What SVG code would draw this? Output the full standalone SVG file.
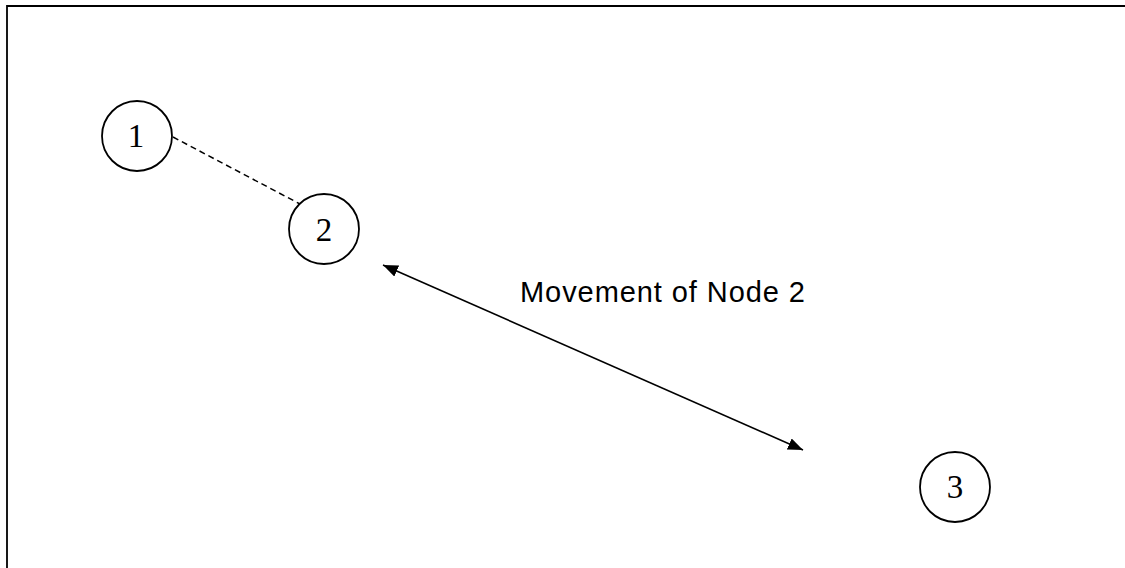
<svg xmlns="http://www.w3.org/2000/svg" width="1125" height="568" viewBox="0 0 1125 568">
  <style>
    .node circle { fill: #fff; stroke: #000; stroke-width: 1.8; }
    .node text { font-family: "Liberation Serif", "Times New Roman", serif; font-size: 33px; text-anchor: middle; fill: #000; }
    .link { stroke: #000; stroke-width: 1.6; fill: none; }
    .dashed { stroke-dasharray: 6 4; stroke-width: 1.5; }
    .label { font-family: "Liberation Sans", Arial, sans-serif; font-size: 29px; fill: #000; }
  </style>
  <defs>
    <marker id="head" viewBox="0 0 15 12" refX="15" refY="6" markerWidth="15" markerHeight="12" markerUnits="userSpaceOnUse" orient="auto-start-reverse">
      <path d="M0,0 L15,6 L0,12 Z" fill="#000"/>
    </marker>
  </defs>
  <rect width="1125" height="568" fill="#fff"/>
  <!-- frame: top and left edges, open to the right and bottom -->
  <path d="M1125,6 H7 V568" fill="none" stroke="#000" stroke-width="1.8"/>

  <g id="connectors">
    <line class="link dashed" x1="173" y1="137" x2="300" y2="204"/>
    <line class="link" x1="383" y1="265" x2="803" y2="450" marker-start="url(#head)" marker-end="url(#head)"/>
  </g>

  <g id="node1" class="node">
    <circle cx="137" cy="136" r="35"/>
    <text x="136" y="147">1</text>
  </g>
  <g id="node2" class="node">
    <circle cx="324" cy="229" r="35"/>
    <text x="324" y="240.5">2</text>
  </g>
  <g id="node3" class="node">
    <circle cx="955" cy="487" r="35"/>
    <text x="955" y="498">3</text>
  </g>

  <text class="label" x="520" y="302" textLength="285" lengthAdjust="spacing">Movement of Node 2</text>
</svg>
